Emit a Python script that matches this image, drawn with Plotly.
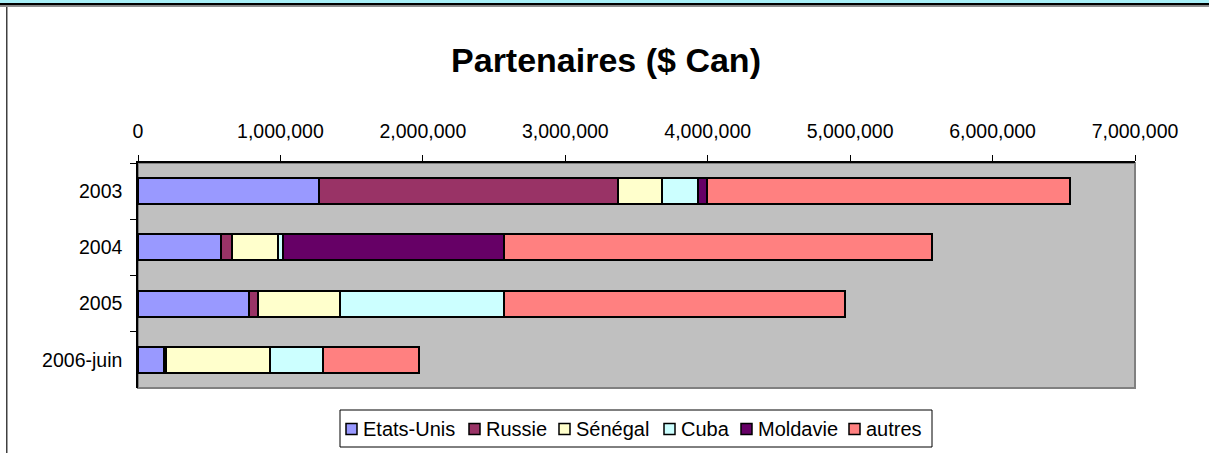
import plotly.graph_objects as go

# ---- data ----
years = ["2003", "2004", "2005", "2006-juin"]
series_names = ["Etats-Unis", "Russie", "Sénégal", "Cuba", "Moldavie", "autres"]
etats_unis = [1272000, 585000, 781000, 185000]
russie = [2095000, 75000, 59000, 15000]
senegal = [309000, 322000, 580000, 728000]
cuba = [255000, 35000, 1149000, 368000]
moldavie = [64000, 1555000, 0, 0]
autres = [2549000, 3005000, 2393000, 674000]
x_ticks = [0, 1000000, 2000000, 3000000, 4000000, 5000000, 6000000, 7000000]
title_text = "Partenaires ($ Can)"

# ---- styling / layout constants ----
colors = ["#9999FF", "#993366", "#FFFFCC", "#CCFFFF", "#660066", "#FF8080"]
values = [etats_unis, russie, senegal, cuba, moldavie, autres]

W, H = 1209, 453
L, R, T, B = 138, 74, 163, 65
PW, PH = W - L - R, H - T - B

# legend key positions (pixels, page coordinates)
legend_key_left = [346, 469, 559, 664, 741, 849]
legend_box = (340, 932, 410, 447)
legend_mid_y = 429
key_size = 11


def px(x):
    return (x - L) / PW


def py(y):
    return (H - B - y) / PH


FONT = "Liberation Sans, Arial, sans-serif"

fig = go.Figure()
for name, vals, col in zip(series_names, values, colors):
    fig.add_trace(go.Bar(
        y=years, x=vals, name=name, orientation="h",
        marker=dict(color=col, line=dict(color="black", width=2)),
        showlegend=False,
    ))

shapes = [
    # plot-area border (grey right/bottom)
    dict(type="rect", xref="paper", yref="paper", x0=0, x1=1, y0=0, y1=1,
         line=dict(color="#808080", width=2), layer="below"),
    # top decoration strip
    dict(type="rect", xref="paper", yref="paper", x0=px(0), x1=px(W),
         y0=py(3), y1=py(0), fillcolor="#A8F0F8", line=dict(width=0)),
    dict(type="rect", xref="paper", yref="paper", x0=px(0), x1=px(W),
         y0=py(5.5), y1=py(3), fillcolor="black", line=dict(width=0)),
    dict(type="rect", xref="paper", yref="paper", x0=px(0), x1=px(W),
         y0=py(7), y1=py(5.5), fillcolor="#909090", line=dict(width=0)),
    # left frame line
    dict(type="rect", xref="paper", yref="paper", x0=px(6), x1=px(7.5),
         y0=py(H), y1=py(7), fillcolor="#404040", line=dict(width=0)),
    # legend box
    dict(type="rect", xref="paper", yref="paper",
         x0=px(legend_box[0]), x1=px(legend_box[1]),
         y0=py(legend_box[3]), y1=py(legend_box[2]),
         fillcolor="white", line=dict(color="black", width=1)),
]

annotations = []
for name, col, kx in zip(series_names, colors, legend_key_left):
    shapes.append(dict(
        type="rect", xref="paper", yref="paper",
        x0=px(kx), x1=px(kx + key_size),
        y0=py(legend_mid_y + key_size / 2), y1=py(legend_mid_y - key_size / 2),
        fillcolor=col, line=dict(color="black", width=1.5)))
    annotations.append(dict(
        text=name, xref="paper", yref="paper",
        x=px(kx + key_size + 4), xanchor="left",
        y=py(legend_mid_y), yanchor="middle", showarrow=False,
        font=dict(family=FONT, size=20, color="black")))

fig.update_layout(
    width=W, height=H,
    margin=dict(l=L, r=R, t=T, b=B, autoexpand=False),
    paper_bgcolor="white",
    plot_bgcolor="#C0C0C0",
    barmode="stack",
    bargap=0.54,
    title=dict(text="<b>" + title_text + "</b>", x=px(606), xref="paper",
               xanchor="center", y=1 - 60 / H, yanchor="middle",
               font=dict(family=FONT, size=34, color="black")),
    font=dict(family=FONT, color="black"),
    showlegend=False,
    shapes=shapes,
    annotations=annotations,
    xaxis=dict(side="top", range=[0, 7000000], tickvals=x_ticks,
               tickformat=",d", showgrid=False, zeroline=False,
               showline=True, linecolor="black", linewidth=1.5,
               ticks="outside", ticklen=6, tickcolor="black",
               ticklabelstandoff=9,
               tickfont=dict(family=FONT, size=19.5, color="black")),
    yaxis=dict(type="category", categoryorder="array", categoryarray=years,
               autorange="reversed", showgrid=False, zeroline=False,
               showline=True, linecolor="black", linewidth=1.5,
               ticks="outside", ticklen=6, tickcolor="black",
               tickson="boundaries", ticklabelstandoff=10,
               tickfont=dict(family=FONT, size=19.5, color="black")),
)

fig.write_html(
    "out.html",
    config={"displayModeBar": False},
    post_script="document.body.style.margin='0';document.body.style.overflow='hidden';",
)
